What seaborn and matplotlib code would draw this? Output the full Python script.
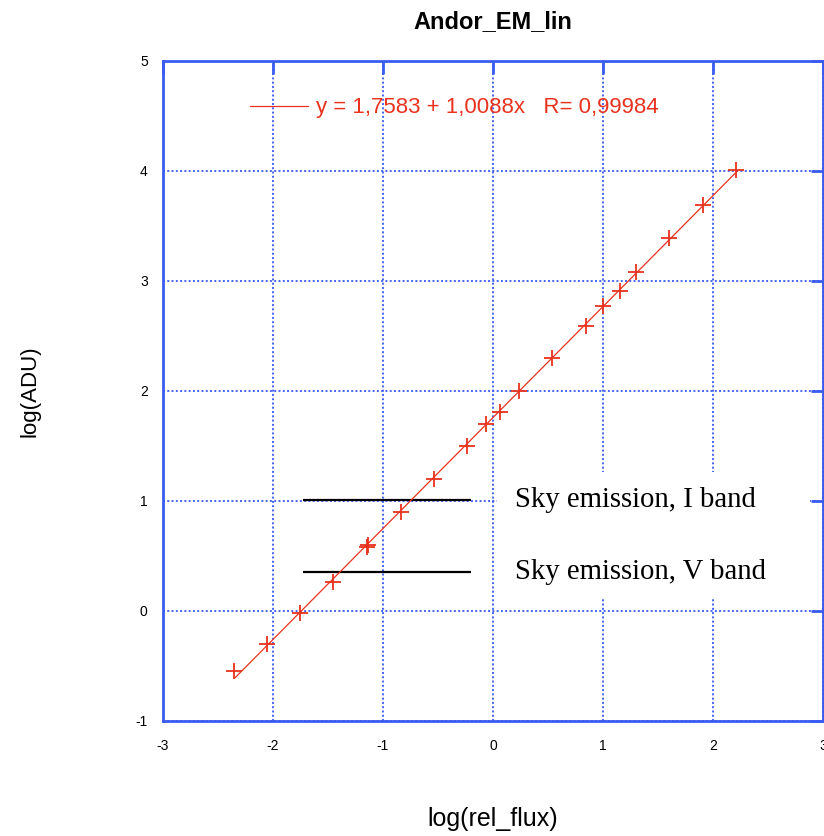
import matplotlib
matplotlib.use("Agg")
import matplotlib.pyplot as plt
from matplotlib.patches import Rectangle
import numpy as np
import pandas as pd
import seaborn as sns

# Measured points: log of relative flux vs log of ADU
log_flux = [-2.35, -2.05, -1.75, -1.45, -1.145, -1.135, -0.84, -0.54, -0.24, -0.065,
            0.065, 0.24, 0.54, 0.845, 1.00, 1.15, 1.30, 1.60, 1.91, 2.21]
log_adu = [-0.55, -0.30, -0.02, 0.26, 0.58, 0.60, 0.90, 1.20, 1.50, 1.70,
           1.81, 2.00, 2.30, 2.59, 2.77, 2.91, 3.08, 3.39, 3.69, 4.01]

# Linear fit y = a + b x over the measured range
fit_a = 1.7583
fit_b = 1.0088
fit_r = "0,99984"
fit_range = [-2.35, 2.22]

# Sky emission levels (log ADU) and their labels
sky_levels = [1.01, 0.355]
sky_labels = ["Sky emission, I band", "Sky emission, V band"]
sky_span = [-1.73, -0.20]

x_ticks = [-3, -2, -1, 0, 1, 2, 3]
y_ticks = [-1, 0, 1, 2, 3, 4, 5]

RED = "#e8321e"
BLUE = "#3a5cf0"

sns.set_style("white")
plt.rcParams["font.family"] = ["Liberation Sans", "DejaVu Sans"]
plt.rcParams["text.color"] = "black"
plt.rcParams["axes.labelcolor"] = "black"

fig = plt.figure(figsize=(8.24, 8.36), dpi=100)
ax = fig.add_axes([0.1978, 0.1376, 0.801, 0.7895])

df = pd.DataFrame({"log_flux": log_flux, "log_adu": log_adu})
fit_x = np.array(fit_range)
fit_df = pd.DataFrame({"x": fit_x, "y": fit_a + fit_b * fit_x})

fit_label = f"y = {str(fit_a).replace('.', ',')} + {str(fit_b).replace('.', ',')}x   R= {fit_r}"

sns.lineplot(data=fit_df, x="x", y="y", color=RED, linewidth=0.9, ax=ax,
             label=fit_label, zorder=4)
sns.scatterplot(data=df, x="log_flux", y="log_adu", marker="+", s=120,
                color=RED, linewidth=1.3, ax=ax, zorder=5, legend=False)

ax.set_xlim(x_ticks[0], x_ticks[-1])
ax.set_ylim(y_ticks[0], y_ticks[-1])
ax.set_xticks(x_ticks)
ax.set_yticks(y_ticks)
ax.set_xticklabels([str(t) for t in x_ticks])
ax.set_yticklabels([str(t) for t in y_ticks])

ax.grid(True, color=BLUE, linestyle=(0, (1, 1.2)), linewidth=1.4, alpha=0.95)
ax.set_axisbelow(True)
for sp in ax.spines.values():
    sp.set_color(BLUE)
    sp.set_linewidth(2)
    sp.set_visible(True)

ax.tick_params(axis="both", which="major", direction="in", length=9, width=2,
               color=BLUE, top=True, right=True, labelsize=10, labelcolor="black")
ax.tick_params(axis="x", pad=13)
ax.tick_params(axis="y", pad=11)

# White panel behind the sky emission labels
ax.add_patch(Rectangle((0.506, 0.188), 0.474, 0.189, transform=ax.transAxes,
                       facecolor="white", edgecolor="none", zorder=1.5))

ax.hlines(sky_levels, sky_span[0], sky_span[1], color="black", linewidth=1.6, zorder=3)
for lvl, txt in zip(sky_levels, sky_labels):
    ax.text(0.20, lvl, txt, family=["Liberation Serif", "DejaVu Serif"], fontsize=20.7,
            ha="left", va="center", color="black", zorder=6)

leg = ax.legend(loc="center left", bbox_to_anchor=(0.132, 0.929), frameon=False,
                fontsize=16, handlelength=2.6, handletextpad=0.35,
                borderpad=0, borderaxespad=0)
for t in leg.get_texts():
    t.set_color(RED)

ax.set_title("Andor_EM_lin", fontsize=17, fontweight="bold", pad=24, color="black")
ax.set_xlabel("log(rel_flux)", fontsize=18)
ax.set_ylabel("log(ADU)", fontsize=16)
ax.xaxis.set_label_coords(0.5, -0.130)
ax.yaxis.set_label_coords(-0.186, 0.50)

fig.savefig("out.png", dpi=100)
